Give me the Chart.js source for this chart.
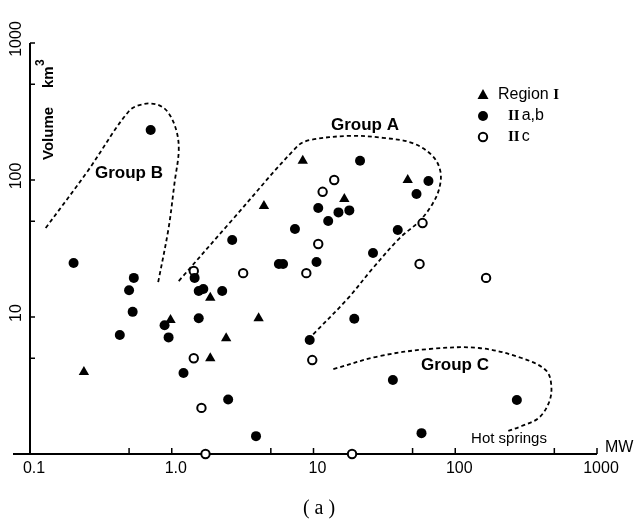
<!DOCTYPE html>
<html><head><meta charset="utf-8">
<script src="https://cdn.jsdelivr.net/npm/chart.js@4/dist/chart.umd.min.js"></script>
<style>html,body{margin:0;padding:0;background:#fff}#wrap{width:634px;height:523px;position:relative}canvas{display:block}</style>
</head><body><div id="wrap"><canvas id="c" width="634" height="523"></canvas></div>
<script>
// ---- data (MW, km^3) ----
const seriesNames = ['Region I', 'IIa,b', 'IIc'];
const regionI_MW  = [8.4, 4.47, 16.5, 46.2, 1.87, 0.98, 2.42, 1.87, 0.24, 4.1];
const regionI_Vol = [138, 64.6, 72.6, 100, 13.8, 9.5, 7.0, 5.0, 3.97, 9.8];
const IIab_MW  = [0.71, 21.3, 10.8, 15.0, 17.9, 12.7, 7.4, 2.67, 39.3, 64.7, 53.3, 26.3, 5.7, 6.1, 10.5, 2.27, 1.67, 1.55, 1.45, 0.203, 0.54, 0.50, 0.53, 0.43, 0.89, 0.95, 1.55, 1.21, 2.5, 19.4, 9.4, 36.3, 272, 3.93, 57.8];
const IIab_Vol = [232, 138, 62.5, 58, 60, 50.2, 43.9, 36.5, 43.2, 98.4, 79, 29.3, 24.4, 24.4, 25.2, 15.5, 16, 15.5, 19.3, 24.8, 19.3, 15.7, 10.9, 7.4, 8.7, 7.1, 9.8, 3.9, 2.5, 9.7, 6.8, 3.47, 2.48, 1.35, 1.42];
const IIc_MW  = [14.0, 11.6, 10.8, 58.8, 56.0, 8.9, 3.19, 165, 1.43, 1.43, 1.62, 1.73, 9.8, 18.7];
const IIc_Vol = [100, 82, 34.1, 48.5, 24.4, 20.9, 20.9, 19.3, 21.7, 5.0, 2.17, 1.0, 4.85, 1.0];

// dashed group outlines (MW, km^3)
const groupA_MW  = [1.12, 2.63, 7.73, 9.5, 18.1, 30.9, 50.0, 69.1, 78.5, 77.3, 69.1, 56.0, 40.6, 26.3, 17.3, 9.84];
const groupA_Vol = [18.3, 50.2, 177, 196, 210, 203, 186, 150, 116, 87.5, 66.9, 50.2, 37.7, 22.8, 13.5, 7.39];
const groupB_MW  = [0.129, 0.255, 0.50, 0.64, 0.81, 0.95, 1.08, 1.12, 1.05, 0.95, 0.80];
const groupB_Vol = [44.6, 116, 319, 359, 352, 308, 228, 163, 98, 44.6, 17.7];
const groupC_MW  = [13.8, 29.4, 65.8, 147, 294, 440, 477, 454, 387, 294, 227];
const groupC_Vol = [4.17, 5.19, 5.84, 5.94, 5.02, 4.04, 3.03, 2.32, 1.83, 1.60, 1.45];

// axes
const xTickVals   = [0.5, 1, 5, 10, 50, 100, 500, 1000];
const xLabelVals  = [0.1, 1, 10, 100, 1000];
const xLabelTexts = ['0.1', '1.0', '10', '100', '1000'];
const yTickVals   = [1000, 500, 100, 50, 10, 5];
const yLabelVals  = [1000, 100, 10];
const yLabelTexts = ['1000', '100', '10'];

const pts = (xs, ys) => xs.map((x, i) => ({x: x, y: ys[i]}));

const outline = (xs, ys) => ({
  data: pts(xs, ys), showLine: true, pointRadius: 0, borderColor: '#000',
  borderWidth: 1.8, borderDash: [4, 3], tension: 0.35, fill: false, clip: false
});

const SANS = '"Liberation Sans", Arial, Helvetica, sans-serif';

const decor = {
  id: 'decor',
  beforeDatasetsDraw(chart) {
    const {ctx, scales: {x, y}} = chart;
    const x0 = x.getPixelForValue(0.1), x1 = x.getPixelForValue(1000);
    const yb = y.getPixelForValue(1), yt = y.getPixelForValue(1000);
    ctx.save();
    ctx.strokeStyle = '#000'; ctx.lineWidth = 2;
    ctx.beginPath();
    ctx.moveTo(x0, yt); ctx.lineTo(x0, yb); ctx.lineTo(x1, yb);
    ctx.moveTo(x0 - 17, yb); ctx.lineTo(x0, yb);
    ctx.stroke();
    ctx.lineWidth = 1.5;
    ctx.beginPath();
    yTickVals.forEach(v => { const p = y.getPixelForValue(v); ctx.moveTo(x0, p); ctx.lineTo(x0 + 5, p); });
    xTickVals.forEach(v => { const p = x.getPixelForValue(v); ctx.moveTo(p, yb); ctx.lineTo(p, yb - 6); });
    ctx.stroke();
    ctx.restore();
  },
  afterDatasetsDraw(chart) {
    const {ctx, scales: {x, y}} = chart;
    const yb = y.getPixelForValue(1);
    ctx.save();
    ctx.fillStyle = '#000';
    // x labels
    ctx.font = '16px ' + SANS; ctx.textAlign = 'center'; ctx.textBaseline = 'middle';
    xLabelVals.forEach((v, i) => ctx.fillText(xLabelTexts[i], x.getPixelForValue(v) + 4, yb + 15));
    ctx.textAlign = 'left';
    ctx.fillText('MW', 605, yb - 6);
    // y labels (rotated)
    yLabelVals.forEach((v, i) => {
      ctx.save(); ctx.translate(17, y.getPixelForValue(v) - 4); ctx.rotate(-Math.PI / 2);
      ctx.textAlign = 'center'; ctx.fillText(yLabelTexts[i], 0, 0); ctx.restore();
    });
    // axis title
    ctx.save(); ctx.translate(49, 160); ctx.rotate(-Math.PI / 2);
    ctx.font = 'bold 15px ' + SANS; ctx.textAlign = 'left'; ctx.textBaseline = 'middle';
    ctx.fillText('Volume', 0, 0);
    ctx.fillText('km', 72, 0);
    ctx.font = 'bold 12px ' + SANS;
    ctx.fillText('3', 94, -8);
    ctx.restore();
    // group labels
    ctx.font = 'bold 17px ' + SANS; ctx.textAlign = 'center'; ctx.textBaseline = 'middle';
    ctx.fillText('Group A', 365, 125);
    ctx.fillText('Group B', 129, 173);
    ctx.fillText('Group C', 455, 365);
    ctx.font = '15px ' + SANS;
    ctx.fillText('Hot springs', 509, 439);
    // caption
    ctx.font = '20px "Liberation Serif", "Times New Roman", serif';
    ctx.fillText('( a )', 319, 509);
    // legend
    const lx = 483, rows = [95, 116, 137];
    ctx.beginPath(); ctx.moveTo(lx, rows[0] - 6); ctx.lineTo(lx + 5.5, rows[0] + 4); ctx.lineTo(lx - 5.5, rows[0] + 4); ctx.closePath(); ctx.fill();
    ctx.beginPath(); ctx.arc(lx, rows[1], 5, 0, 2 * Math.PI); ctx.fill();
    ctx.beginPath(); ctx.arc(lx, rows[2], 4.2, 0, 2 * Math.PI); ctx.lineWidth = 2; ctx.strokeStyle = '#000'; ctx.stroke();
    ctx.textAlign = 'left';
    ctx.font = '16px ' + SANS;
    ctx.fillText('Region ', 498, rows[0]);
    const rw = ctx.measureText('Region ').width;
    ctx.font = 'bold 15px "Liberation Serif", serif';
    ctx.fillText('I', 498 + rw, rows[0]);
    ctx.fillText('II', 508, rows[1]);
    ctx.fillText('II', 508, rows[2]);
    const iw = ctx.measureText('II').width;
    ctx.font = '16px ' + SANS;
    ctx.fillText('a,b', 508 + iw + 2, rows[1]);
    ctx.fillText('c', 508 + iw + 2, rows[2]);
    ctx.restore();
  }
};

new Chart(document.getElementById('c'), {
  type: 'scatter',
  data: {
    datasets: [
      {label: seriesNames[0], data: pts(regionI_MW, regionI_Vol), pointStyle: 'triangle', pointRadius: 6,
       backgroundColor: '#000', borderColor: '#000', borderWidth: 0, clip: false},
      {label: seriesNames[1], data: pts(IIab_MW, IIab_Vol), pointStyle: 'circle', pointRadius: 5,
       backgroundColor: '#000', borderColor: '#000', borderWidth: 0, clip: false},
      {label: seriesNames[2], data: pts(IIc_MW, IIc_Vol), pointStyle: 'circle', pointRadius: 4.2,
       backgroundColor: '#fff', borderColor: '#000', borderWidth: 2, clip: false},
      Object.assign({label: 'Group A'}, outline(groupA_MW, groupA_Vol)),
      Object.assign({label: 'Group B'}, outline(groupB_MW, groupB_Vol)),
      Object.assign({label: 'Group C'}, outline(groupC_MW, groupC_Vol))
    ]
  },
  options: {
    responsive: false, animation: false, devicePixelRatio: 1,
    layout: {padding: {left: 30, right: 37, top: 43, bottom: 69}},
    scales: {
      x: {type: 'logarithmic', min: 0.1, max: 1000, display: false},
      y: {type: 'logarithmic', min: 1, max: 1000, display: false}
    },
    plugins: {legend: {display: false}, tooltip: {enabled: false}}
  },
  plugins: [decor]
});
</script>
</body></html>
